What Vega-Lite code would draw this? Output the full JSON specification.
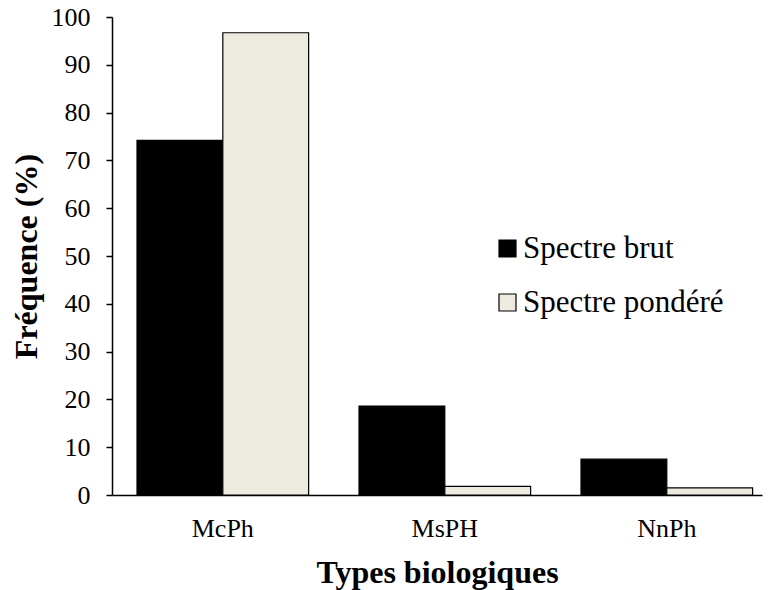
{
  "$schema": "https://vega.github.io/schema/vega-lite/v6.json",
  "width": 650,
  "height": 478,
  "autosize": {"type": "none"},
  "padding": {"left": 112, "top": 17, "right": 9, "bottom": 95},
  "background": "white",
  "config": {
    "view": {"stroke": null},
    "font": "Liberation Serif",
    "legend": {"labelFont": "Liberation Serif", "labelFontWeight": "normal"},
    "axis": {"grid": false, "domainColor": "black", "domainWidth": 1.5, "tickColor": "black", "tickWidth": 1.5, "labelColor": "black", "titleColor": "black", "labelFont": "Liberation Serif", "titleFont": "Liberation Serif"}
  },
  "data": {
    "values": [
      {"type": "McPh", "spectre": "Spectre brut", "value": 74.2},
      {"type": "McPh", "spectre": "Spectre pondéré", "value": 96.7},
      {"type": "MsPH", "spectre": "Spectre brut", "value": 18.6},
      {"type": "MsPH", "spectre": "Spectre pondéré", "value": 1.8},
      {"type": "NnPh", "spectre": "Spectre brut", "value": 7.5},
      {"type": "NnPh", "spectre": "Spectre pondéré", "value": 1.5}
    ]
  },
  "mark": {"type": "bar", "stroke": "black", "strokeWidth": 1.2},
  "encoding": {
    "x": {
      "field": "type", "type": "nominal", "sort": ["McPh", "MsPH", "NnPh"],
      "scale": {"paddingInner": 0.227, "paddingOuter": 0.0775, "align": 0.727},
      "axis": {"title": "Types biologiques", "labelAngle": 0, "ticks": false, "labelFontSize": 26, "labelPadding": 20, "titleFontSize": 32, "titleFontWeight": "bold", "titlePadding": 16}
    },
    "xOffset": {"field": "spectre", "type": "nominal", "scale": {"paddingInner": 0, "paddingOuter": 0}},
    "y": {
      "field": "value", "type": "quantitative",
      "scale": {"domain": [0, 100], "nice": false},
      "axis": {"title": "Fréquence (%)", "values": [0, 10, 20, 30, 40, 50, 60, 70, 80, 90, 100], "tickSize": 6, "labelFontSize": 26, "labelPadding": 16, "titleFontSize": 32, "titleFontWeight": "bold", "titlePadding": 8}
    },
    "color": {
      "field": "spectre", "type": "nominal",
      "scale": {"domain": ["Spectre brut", "Spectre pondéré"], "range": ["#000000", "#EDEAE0"]},
      "legend": {
        "title": null, "orient": "none", "legendX": 380, "legendY": 216,
        "symbolType": "square", "symbolSize": 289, "symbolStrokeColor": "black", "symbolStrokeWidth": 1.2,
        "labelFontSize": 31, "labelColor": "black", "labelOffset": 0, "labelLimit": 400, "rowPadding": 22
      }
    }
  }
}
